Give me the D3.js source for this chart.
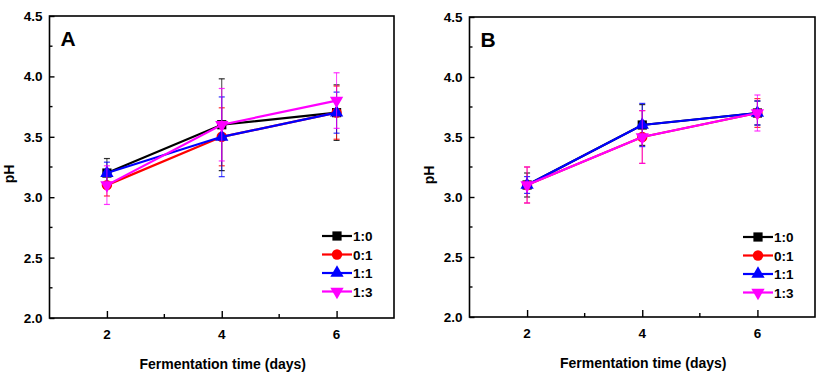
<!DOCTYPE html>
<html>
<head>
<meta charset="utf-8">
<script src="https://cdn.jsdelivr.net/npm/d3@7"></script>
<style>
  body { margin: 0; background: #fff; }
  text { font-family: Arial, "Liberation Sans", sans-serif; font-weight: bold; }
</style>
</head>
<body>
<div id="chart"></div>
<script>
// data
const days = [2, 4, 6]
const seriesNames = ["1:0", "0:1", "1:1", "1:3"]
const seriesColors = ["#000000", "#ff0000", "#0000ff", "#ff00ff"]
const seriesShapes = ["square", "circle", "triangleUp", "triangleDown"]
const yTicks = [2.0, 2.5, 3.0, 3.5, 4.0, 4.5]
const xTicks = [2, 4, 6]

// panel A
const phA = [
    [3.2, 3.6, 3.7],
    [3.1, 3.5, 3.7],
    [3.2, 3.5, 3.7],
    [3.1, 3.6, 3.8]
]
const errA = [
    [0.12, 0.38, 0.23],
    [0.09, 0.24, 0.22],
    [0.09, 0.33, 0.17],
    [0.16, 0.30, 0.23]
]

// panel B
const phB = [
    [3.1, 3.6, 3.7],
    [3.1, 3.5, 3.7],
    [3.1, 3.6, 3.7],
    [3.1, 3.5, 3.7]
]
const errB = [
    [0.1, 0.17, 0.1],
    [0.15, 0.22, 0.12],
    [0.07, 0.18, 0.1],
    [0.15, 0.22, 0.15]
]

let svg = d3.select("#chart")
            .append('svg')
            .attr('width', 827)
            .attr('height', 380)

function symbolPath(shape, size) {
    if (shape == "square") return d3.symbol(d3.symbolSquare, size)()
    if (shape == "circle") return d3.symbol(d3.symbolCircle, size)()
    if (shape == "triangleUp") return d3.symbol(d3.symbolTriangle, size * 0.9)()
    // pointing down
    return d3.symbol(d3.symbolTriangle, size * 0.9)()
}

function drawPanel(p) {
    let g = svg.append('g')

    let x = d3.scaleLinear().domain([1, 7]).range([p.left, p.right])
    let y = d3.scaleLinear().domain([2, 4.5]).range([p.bottom, p.top])

    // box frame
    g.append('rect')
     .attr('x', p.left).attr('y', p.top)
     .attr('width', p.right - p.left).attr('height', p.bottom - p.top)
     .attr('fill', 'none').attr('stroke', '#000').attr('stroke-width', 1.6)

    // y axis, ticks inside
    let yAxis = g.append('g')
                 .attr('transform', "translate(" + p.left + ",0)")
                 .call(d3.axisRight(y).tickValues(yTicks).tickFormat(d3.format(".1f")).tickSize(5).tickPadding(0))
    yAxis.select('.domain').remove()
    yAxis.selectAll('text').remove()
    yAxis.selectAll('line').attr('stroke-width', 1.4)
    g.selectAll('.ylab')
     .data(yTicks)
     .enter().append('text')
     .attr('class', 'ylab')
     .attr('x', p.left - 7)
     .attr('y', function(d) { return y(d) + 5 })
     .attr('text-anchor', 'end')
     .style('font-size', '13.5px')
     .text(d3.format(".1f"))
    // minor y ticks
    g.selectAll('.yminor')
     .data(d3.range(2.25, 4.5, 0.5))
     .enter().append('line')
     .attr('x1', p.left).attr('x2', p.left + 3)
     .attr('y1', function(d) { return y(d) }).attr('y2', function(d) { return y(d) })
     .attr('stroke', '#000').attr('stroke-width', 1.4)

    // x axis, ticks inside
    let xAxis = g.append('g')
                 .attr('transform', "translate(0," + p.bottom + ")")
                 .call(d3.axisTop(x).tickValues(xTicks).tickSize(7))
    xAxis.select('.domain').remove()
    xAxis.selectAll('text').remove()
    xAxis.selectAll('line').attr('stroke-width', 1.4)
    g.selectAll('.xlab')
     .data(xTicks)
     .enter().append('text')
     .attr('class', 'xlab')
     .attr('x', function(d) { return x(d) })
     .attr('y', p.bottom + 21)
     .attr('text-anchor', 'middle')
     .style('font-size', '13.5px')
     .text(function(d) { return d })
    g.selectAll('.xminor')
     .data([3, 5])
     .enter().append('line')
     .attr('x1', function(d) { return x(d) }).attr('x2', function(d) { return x(d) })
     .attr('y1', p.bottom).attr('y2', p.bottom - 4)
     .attr('stroke', '#000').attr('stroke-width', 1.4)

    // axis titles
    g.append('text')
     .attr('x', (p.left + p.right) / 2 + 1)
     .attr('y', p.bottom + 51)
     .attr('text-anchor', 'middle')
     .style('font-size', '14px')
     .text("Fermentation time (days)")
    g.append('text')
     .attr('transform', "translate(" + (p.left - 36) + "," + (p.top + 158) + ")rotate(-90)")
     .attr('text-anchor', 'middle')
     .style('font-size', '14px')
     .text("pH")

    // panel letter
    g.append('text')
     .attr('x', p.left + 11)
     .attr('y', p.top + 30)
     .style('font-size', '21px')
     .text(p.letter)

    // series
    seriesNames.forEach(function(name, i) {
        let pts = days.map(function(d, j) { return {day: d, v: p.values[i][j], e: p.errors[i][j]} })
        let s = g.append('g')

        // error bars
        let eb = s.selectAll('.err').data(pts).enter().append('g')
        eb.append('line')
          .attr('x1', function(d) { return x(d.day) }).attr('x2', function(d) { return x(d.day) })
          .attr('y1', function(d) { return y(d.v - d.e) }).attr('y2', function(d) { return y(d.v + d.e) })
          .attr('stroke', seriesColors[i]).attr('stroke-width', 1).attr('opacity', 0.75)
        ;[-1, 1].forEach(function(sign) {
            eb.append('line')
              .attr('x1', function(d) { return x(d.day) - 3 }).attr('x2', function(d) { return x(d.day) + 3 })
              .attr('y1', function(d) { return y(d.v + sign * d.e) }).attr('y2', function(d) { return y(d.v + sign * d.e) })
              .attr('stroke', seriesColors[i]).attr('stroke-width', 1.2).attr('opacity', 0.8)
        })

        s.append('path')
         .datum(pts)
         .attr('fill', 'none')
         .attr('stroke', seriesColors[i])
         .attr('stroke-width', 2.2)
         .attr('d', d3.line().x(function(d) { return x(d.day) }).y(function(d) { return y(d.v) }))

        s.selectAll('.mk').data(pts).enter().append('path')
         .attr('d', symbolPath(seriesShapes[i], 85))
         .attr('transform', function(d) {
             return "translate(" + x(d.day) + "," + y(d.v) + ")" + (seriesShapes[i] == "triangleDown" ? "rotate(180)" : "")
         })
         .attr('fill', seriesColors[i])

        // legend row
        let ly = p.legendY + i * 18.5
        g.append('line')
         .attr('x1', p.legendX).attr('x2', p.legendX + 30)
         .attr('y1', ly).attr('y2', ly)
         .attr('stroke', seriesColors[i]).attr('stroke-width', 2.2)
        g.append('path')
         .attr('d', symbolPath(seriesShapes[i], 85))
         .attr('transform', "translate(" + (p.legendX + 15) + "," + ly + ")" + (seriesShapes[i] == "triangleDown" ? "rotate(180)" : ""))
         .attr('fill', seriesColors[i])
        g.append('text')
         .attr('x', p.legendX + 31)
         .attr('y', ly + 5)
         .style('font-size', '13.5px')
         .text(name)
    })
}

drawPanel({letter: "A", left: 49.5, right: 394, top: 16, bottom: 318,
           values: phA, errors: errA, legendX: 322, legendY: 236})
drawPanel({letter: "B", left: 469.5, right: 815, top: 17, bottom: 317,
           values: phB, errors: errB, legendX: 743, legendY: 237})
</script>
</body>
</html>
